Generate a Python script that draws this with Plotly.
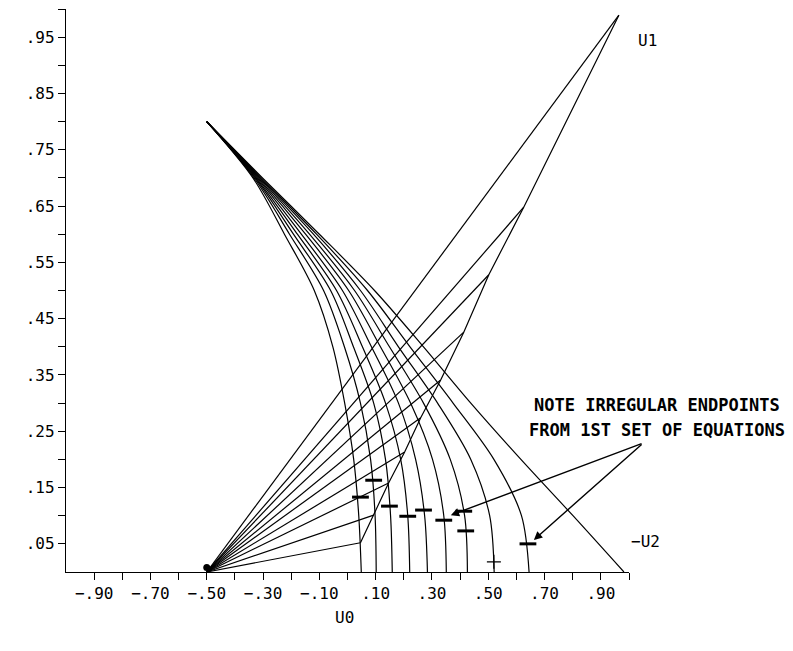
import plotly.graph_objects as go

# ---------------- data ----------------
# Family of curves from (-0.5, 0.8) down to the U0 axis (x values at each y level)
A_Y = [0.8, 0.7, 0.6, 0.5, 0.4, 0.3, 0.2, 0.1, 0.0]
A_C0 = [-0.5, -0.336, -0.224, -0.118, -0.052, -0.010, 0.022, 0.040, 0.049]
A_C1 = [-0.5, -0.332, -0.206, -0.085, -0.011, 0.046, 0.082, 0.098, 0.102]
A_C2 = [-0.5, -0.328, -0.192, -0.060, 0.021, 0.093, 0.135, 0.153, 0.159]
A_C3 = [-0.5, -0.325, -0.178, -0.039, 0.053, 0.135, 0.189, 0.214, 0.221]
A_C4 = [-0.5, -0.321, -0.164, -0.018, 0.085, 0.181, 0.242, 0.274, 0.284]
A_C5 = [-0.5, -0.317, -0.149, 0.004, 0.117, 0.224, 0.302, 0.342, 0.351]
A_C6 = [-0.5, -0.313, -0.135, 0.025, 0.149, 0.270, 0.365, 0.416, 0.426]
A_C7 = [-0.5, -0.310, -0.121, 0.046, 0.181, 0.320, 0.438, 0.505, 0.521]
A_C8 = [-0.5, -0.306, -0.110, 0.071, 0.222, 0.375, 0.520, 0.618, 0.645]
A_C9 = [-0.5, -0.302, -0.100, 0.096, 0.270, 0.438, 0.616, 0.801, 0.982]
A_CURVES = [A_C0, A_C1, A_C2, A_C3, A_C4, A_C5, A_C6, A_C7, A_C8, A_C9]

# Fan of lines from (-0.5, 0) to end points on the U1 boundary
B_ORIGIN_X = -0.5
B_ORIGIN_Y = 0.0
B_END_X = [0.046, 0.093, 0.146, 0.203, 0.260, 0.331, 0.413, 0.502, 0.626, 0.964]
B_END_Y = [0.052, 0.101, 0.158, 0.213, 0.274, 0.341, 0.426, 0.528, 0.648, 0.989]

# "Irregular endpoints" marks
MARK_X = [0.046, 0.093, 0.149, 0.214, 0.270, 0.342, 0.413, 0.420, 0.641]
MARK_Y = [0.133, 0.163, 0.117, 0.099, 0.110, 0.092, 0.108, 0.073, 0.050]
SMALL_MARK_X = [0.520]
SMALL_MARK_Y = [0.018]

# Axis ticks
X_TICKS = [-0.9, -0.8, -0.7, -0.6, -0.5, -0.4, -0.3, -0.2, -0.1, 0.0,
           0.1, 0.2, 0.3, 0.4, 0.5, 0.6, 0.7, 0.8, 0.9, 1.0]
X_TICK_LABELS = ["\u2212.90", "", "\u2212.70", "", "\u2212.50", "", "\u2212.30", "", "\u2212.10", "",
                 ".10", "", ".30", "", ".50", "", ".70", "", ".90", ""]
Y_TICKS = [0.05, 0.10, 0.15, 0.20, 0.25, 0.30, 0.35, 0.40, 0.45, 0.50,
           0.55, 0.60, 0.65, 0.70, 0.75, 0.80, 0.85, 0.90, 0.95, 1.00]
Y_TICK_LABELS = [".05", "", ".15", "", ".25", "", ".35", "", ".45", "",
                 ".55", "", ".65", "", ".75", "", ".85", "", ".95", ""]

# ---------------- figure ----------------
LINE = dict(color="black", width=1.2)
fig = go.Figure()

for xs in A_CURVES:
    fig.add_trace(go.Scatter(x=xs, y=A_Y, mode="lines",
                             line=dict(color="black", width=1.2, shape="spline", smoothing=0.9),
                             hoverinfo="skip"))

for ex, ey in zip(B_END_X, B_END_Y):
    fig.add_trace(go.Scatter(x=[B_ORIGIN_X, ex], y=[B_ORIGIN_Y, ey], mode="lines",
                             line=LINE, hoverinfo="skip"))

# boundary joining the fan end points
fig.add_trace(go.Scatter(x=B_END_X, y=B_END_Y, mode="lines", line=LINE, hoverinfo="skip"))

# origin blob
fig.add_trace(go.Scatter(x=[B_ORIGIN_X], y=[B_ORIGIN_Y + 0.008], mode="markers",
                         marker=dict(color="black", size=7), hoverinfo="skip"))

fig.add_trace(go.Scatter(x=MARK_X, y=MARK_Y, mode="markers",
                         marker=dict(symbol="line-ew", size=12,
                                     line=dict(color="black", width=3)),
                         hoverinfo="skip"))
fig.add_trace(go.Scatter(x=SMALL_MARK_X, y=SMALL_MARK_Y, mode="markers",
                         marker=dict(symbol="cross-thin", size=10,
                                     line=dict(color="black", width=1.2)),
                         hoverinfo="skip"))

AX_FONT = dict(family="DejaVu Sans Mono", size=16, color="black")
fig.update_xaxes(range=[-1, 1], showline=True, linecolor="black", linewidth=1.3,
                 ticks="outside", ticklen=7, tickwidth=1.2, tickcolor="black",
                 tickvals=X_TICKS, ticktext=X_TICK_LABELS, tickfont=AX_FONT,
                 showgrid=False, zeroline=False)
fig.update_yaxes(range=[0, 1], showline=True, linecolor="black", linewidth=1.3,
                 ticks="outside", ticklen=7, tickwidth=1.2, tickcolor="black",
                 tickvals=Y_TICKS, ticktext=Y_TICK_LABELS, tickfont=AX_FONT,
                 showgrid=False, zeroline=False)

NOTE_FONT = dict(family="DejaVu Sans Mono", size=17, color="black", weight="bold")
annotations = [
    dict(text="U0", x=0.495, y=-0.08, xref="paper", yref="paper", showarrow=False,
         font=AX_FONT, xanchor="center", yanchor="middle"),
    dict(text="U1", x=1.012, y=0.944, xref="paper", yref="paper", showarrow=False,
         font=AX_FONT, xanchor="left", yanchor="middle"),
    dict(text="\u2212U2", x=1.0, y=0.055, xref="paper", yref="paper", showarrow=False,
         font=AX_FONT, xanchor="left", yanchor="middle"),
    dict(text="NOTE IRREGULAR ENDPOINTS", x=1.05, y=0.297, xref="paper", yref="paper",
         showarrow=False, font=NOTE_FONT, xanchor="center", yanchor="middle"),
    dict(text="FROM 1ST SET OF EQUATIONS", x=1.05, y=0.252, xref="paper", yref="paper",
         showarrow=False, font=NOTE_FONT, xanchor="center", yanchor="middle"),
    dict(text="", x=0.367, y=0.101, xref="x", yref="y", ax=1.05, ay=0.229,
         axref="x", ayref="y", showarrow=True, arrowhead=2, arrowsize=1.2,
         arrowwidth=1.4, arrowcolor="black"),
    dict(text="", x=0.662, y=0.057, xref="x", yref="y", ax=1.05, ay=0.229,
         axref="x", ayref="y", showarrow=True, arrowhead=2, arrowsize=1.2,
         arrowwidth=1.4, arrowcolor="black"),
]

# the page adds an 8px body margin, so the figure is sized to fit inside it
fig.update_layout(width=777, height=635, margin=dict(l=58, r=156, t=1, b=71),
                  plot_bgcolor="white", paper_bgcolor="white", showlegend=False,
                  annotations=annotations)

fig.write_html("out.html")
